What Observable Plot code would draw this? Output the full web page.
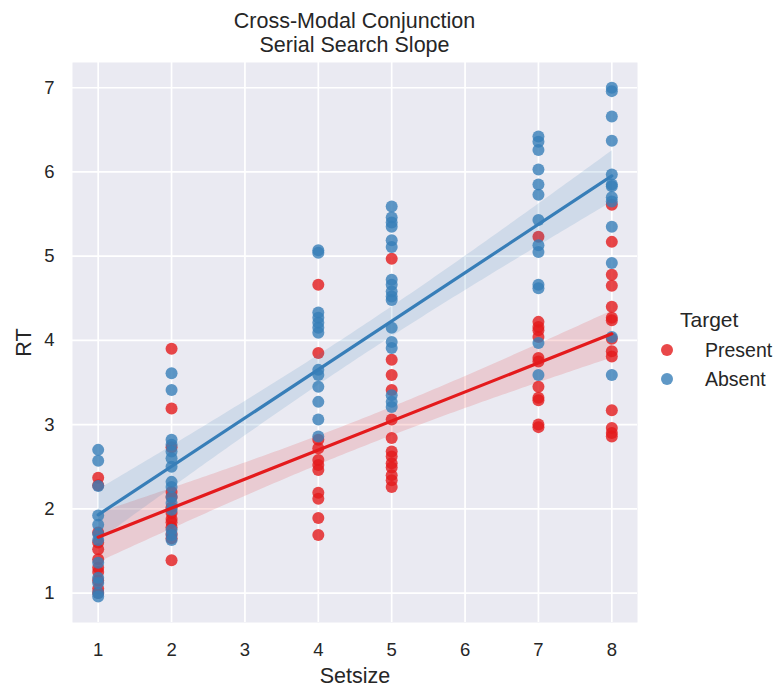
<!DOCTYPE html>
<html><head><meta charset="utf-8">
<script src="https://cdn.jsdelivr.net/npm/d3@7"></script>
<script src="https://cdn.jsdelivr.net/npm/@observablehq/plot@0.6"></script>
<style>
body{margin:0;background:#fff;font-family:"Liberation Sans",Arial,sans-serif;color:#262626}
#wrap{position:relative;width:776px;height:686px}
#title{position:absolute;left:72px;width:565px;top:9px;text-align:center;font-size:21.5px;line-height:24px}
.lg{position:absolute;white-space:nowrap;line-height:24px}
.dot{position:absolute;width:12px;height:12px;border-radius:50%;opacity:0.8}
</style></head><body>
<div id="wrap"><div id="title">Cross-Modal Conjunction<br>Serial Search Slope</div></div>
<script>
const setsizes = [1, 2, 4, 5, 7, 8];
const targets = ["Present", "Absent"];
const colors = ["#E41A1C", "#377EB8"];
const xTicks = [1, 2, 3, 4, 5, 6, 7, 8];
const yTicks = [1, 2, 3, 4, 5, 6, 7];

// RT values per setsize (same order as setsizes)
const presentRT = [
  [2.37, 2.28, 1.72, 1.60, 1.52, 1.40, 1.30, 1.25, 1.15, 1.05, 1.00],
  [3.90, 3.19, 2.73, 2.20, 2.14, 2.02, 1.95, 1.88, 1.84, 1.78, 1.70, 1.65, 1.39],
  [4.66, 3.85, 2.82, 2.72, 2.58, 2.52, 2.46, 2.19, 2.12, 1.89, 1.69],
  [4.97, 3.77, 3.59, 3.41, 3.06, 2.84, 2.68, 2.62, 2.54, 2.49, 2.40, 2.34, 2.26],
  [5.23, 4.22, 4.16, 4.12, 4.04, 3.79, 3.75, 3.45, 3.32, 3.29, 3.00, 2.97],
  [5.61, 5.17, 4.78, 4.65, 4.40, 4.27, 4.24, 4.02, 3.87, 3.81, 3.17, 2.96, 2.90, 2.86]
];
const absentRT = [
  [2.70, 2.57, 2.27, 1.92, 1.81, 1.70, 1.63, 1.36, 1.18, 1.12, 1.00, 0.96],
  [3.61, 3.41, 2.82, 2.76, 2.68, 2.60, 2.50, 2.32, 2.26, 2.14, 2.07, 1.99, 1.75, 1.69, 1.63],
  [5.07, 5.04, 4.33, 4.27, 4.21, 4.15, 4.09, 3.65, 3.59, 3.45, 3.27, 3.06, 2.86],
  [5.59, 5.46, 5.40, 5.35, 5.19, 5.11, 4.72, 4.66, 4.58, 4.52, 4.48, 4.15, 3.98, 3.91, 3.35, 3.27, 3.21],
  [6.42, 6.36, 6.26, 6.03, 5.85, 5.73, 5.43, 5.13, 5.05, 4.66, 4.62, 3.97, 3.59],
  [7.00, 6.96, 6.66, 6.37, 5.97, 5.85, 5.83, 5.70, 5.65, 5.35, 4.92, 4.04, 3.59]
];

function rows(target, table) {
  const out = [];
  table.forEach((vals, i) => vals.forEach(v => out.push({Setsize: setsizes[i], RT: v, Target: target})));
  return out;
}
const present = rows("Present", presentRT);
const absent = rows("Absent", absentRT);
const all = present.concat(absent);

const font = '"Liberation Sans", Arial, sans-serif';
const enc = {x: "Setsize", y: "RT"};

const chart = Plot.plot({
  width: 776, height: 686,
  marginTop: 62, marginLeft: 72, marginRight: 139, marginBottom: 64,
  style: {fontFamily: font, fontSize: "18.5px", color: "#262626", background: "transparent"},
  x: {domain: [0.65, 8.35]},
  y: {domain: [0.65, 7.30]},
  color: {domain: targets, range: colors},
  marks: [
    Plot.frame({fill: "#EAEAF2", stroke: null}),
    Plot.gridX(xTicks, {stroke: "white", strokeOpacity: 1, strokeWidth: 1.7}),
    Plot.gridY(yTicks, {stroke: "white", strokeOpacity: 1, strokeWidth: 1.7}),
    Plot.dot(present, {...enc, fill: "Target", r: 6, fillOpacity: 0.8, stroke: null}),
    Plot.linearRegressionY(present, {...enc, stroke: "Target", fill: "Target", fillOpacity: 0.15, strokeOpacity: 0}),
    Plot.dot(absent, {...enc, fill: "Target", r: 6, fillOpacity: 0.8, stroke: null}),
    Plot.linearRegressionY(absent, {...enc, stroke: "Target", fill: "Target", fillOpacity: 0.15, strokeOpacity: 0}),
    Plot.linearRegressionY(all, {...enc, stroke: "Target", fillOpacity: 0, strokeWidth: 3.2}),
    Plot.axisX(xTicks, {tickSize: 0, tickPadding: 20, fontSize: 18.5, tickFormat: "d", label: "Setsize", labelAnchor: "center", labelArrow: "none", labelOffset: 60, fill: "#262626"}),
    Plot.axisY(yTicks, {tickSize: 0, tickPadding: 18, fontSize: 18.5, tickFormat: "d", label: "RT", labelAnchor: "center", labelArrow: "none", labelOffset: 57, fill: "#262626"})
  ]
});
chart.querySelectorAll('[aria-label="x-axis label"] text, [aria-label="y-axis label"] text').forEach(t => t.setAttribute("font-size", "21.5"));
const wrap = document.getElementById("wrap");
wrap.insertBefore(chart, wrap.firstChild);

// legend
function add(html, cls, style) {
  const d = document.createElement("div");
  d.className = cls; d.innerHTML = html; Object.assign(d.style, style); wrap.appendChild(d);
}
add("Target", "lg", {left: "680px", top: "308px", fontSize: "21px"});
targets.forEach((t, i) => {
  const cy = 350 + i * 29;
  add("", "dot", {left: (667 - 6) + "px", top: (cy - 6) + "px", background: colors[i]});
  add(t, "lg", {left: "705px", top: (cy - 12) + "px", fontSize: "19.5px"});
});
</script>
</body></html>
